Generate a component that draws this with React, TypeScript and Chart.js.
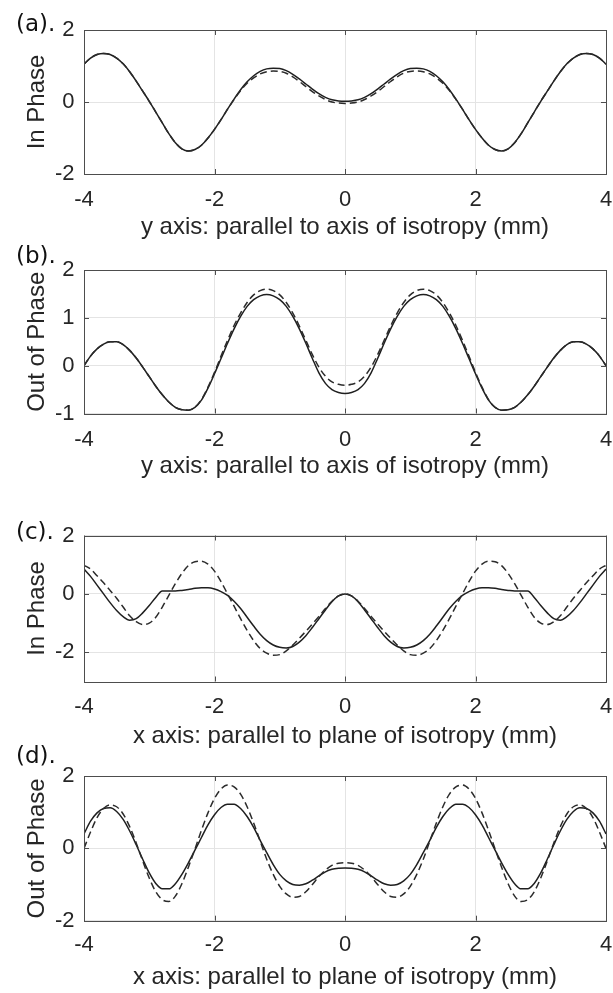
import React, { useEffect, useRef } from "react";
import { Chart, registerables } from "chart.js";
Chart.register(...registerables);

// x positions (mm)
const xs = [
  -4.0, -3.9, -3.8, -3.7, -3.6, -3.5, -3.4, -3.3, -3.2, -3.1,
  -3.0, -2.9, -2.8, -2.7, -2.6, -2.5, -2.4, -2.3, -2.2, -2.1,
  -2.0, -1.9, -1.8, -1.7, -1.6, -1.5, -1.4, -1.3, -1.2, -1.1,
  -1.0, -0.9, -0.8, -0.7, -0.6, -0.5, -0.4, -0.3, -0.2, -0.1,
  0.0,
  0.1, 0.2, 0.3, 0.4, 0.5, 0.6, 0.7, 0.8, 0.9, 1.0,
  1.1, 1.2, 1.3, 1.4, 1.5, 1.6, 1.7, 1.8, 1.9, 2.0,
  2.1, 2.2, 2.3, 2.4, 2.5, 2.6, 2.7, 2.8, 2.9, 3.0,
  3.1, 3.2, 3.3, 3.4, 3.5, 3.6, 3.7, 3.8, 3.9, 4.0,
];

// (a) In Phase, y axis
const aSolid = [
  1.05, 1.22, 1.32, 1.35, 1.32, 1.22, 1.06, 0.84, 0.58, 0.3,
  0.02, -0.28, -0.58, -0.88, -1.13, -1.3, -1.36, -1.32, -1.2, -1.0,
  -0.76, -0.49, -0.2, 0.08, 0.34, 0.56, 0.73, 0.85, 0.92, 0.94,
  0.93, 0.87, 0.77, 0.64, 0.5, 0.36, 0.23, 0.13, 0.06, 0.03,
  0.02,
  0.03, 0.06, 0.13, 0.23, 0.36, 0.5, 0.64, 0.77, 0.87, 0.93,
  0.94, 0.92, 0.85, 0.73, 0.56, 0.34, 0.08, -0.2, -0.49, -0.76,
  -1.0, -1.2, -1.32, -1.36, -1.3, -1.13, -0.88, -0.58, -0.28, 0.02,
  0.3, 0.58, 0.84, 1.06, 1.22, 1.32, 1.35, 1.32, 1.22, 1.05,
];
const aDashed = [
  1.05, 1.22, 1.32, 1.35, 1.32, 1.22, 1.06, 0.84, 0.58, 0.3,
  0.02, -0.28, -0.58, -0.88, -1.13, -1.3, -1.36, -1.32, -1.2, -1.0,
  -0.76, -0.49, -0.2, 0.07, 0.32, 0.52, 0.67, 0.78, 0.84, 0.86,
  0.85, 0.8, 0.7, 0.57, 0.43, 0.29, 0.17, 0.07, 0.0, -0.03,
  -0.04,
  -0.03, 0.0, 0.07, 0.17, 0.29, 0.43, 0.57, 0.7, 0.8, 0.85,
  0.86, 0.84, 0.78, 0.67, 0.52, 0.32, 0.07, -0.2, -0.49, -0.76,
  -1.0, -1.2, -1.32, -1.36, -1.3, -1.13, -0.88, -0.58, -0.28, 0.02,
  0.3, 0.58, 0.84, 1.06, 1.22, 1.32, 1.35, 1.32, 1.22, 1.05,
];

// (b) Out of Phase, y axis
const bSolid = [
  0.0, 0.2, 0.35, 0.45, 0.5, 0.5, 0.44, 0.32, 0.16, -0.03,
  -0.23, -0.43, -0.61, -0.76, -0.87, -0.92, -0.93, -0.87, -0.72, -0.47,
  -0.17, 0.15, 0.47, 0.77, 1.03, 1.24, 1.38, 1.46, 1.49, 1.46,
  1.38, 1.24, 1.03, 0.77, 0.47, 0.15, -0.15, -0.37, -0.5, -0.56,
  -0.58,
  -0.56, -0.5, -0.37, -0.15, 0.15, 0.47, 0.77, 1.03, 1.24, 1.38,
  1.46, 1.49, 1.46, 1.38, 1.24, 1.03, 0.77, 0.47, 0.15, -0.17,
  -0.47, -0.72, -0.87, -0.93, -0.92, -0.87, -0.76, -0.61, -0.43, -0.23,
  -0.03, 0.16, 0.32, 0.44, 0.5, 0.5, 0.45, 0.35, 0.2, 0.0,
];
const bDashed = [
  0.0, 0.2, 0.35, 0.45, 0.5, 0.5, 0.44, 0.32, 0.16, -0.03,
  -0.23, -0.43, -0.61, -0.76, -0.87, -0.92, -0.93, -0.87, -0.71, -0.45,
  -0.14, 0.2, 0.53, 0.84, 1.1, 1.32, 1.48, 1.57, 1.6, 1.57,
  1.48, 1.32, 1.1, 0.83, 0.53, 0.23, -0.03, -0.22, -0.34, -0.39,
  -0.41,
  -0.39, -0.34, -0.22, -0.03, 0.23, 0.53, 0.83, 1.1, 1.32, 1.48,
  1.57, 1.6, 1.57, 1.48, 1.32, 1.1, 0.84, 0.53, 0.2, -0.14,
  -0.45, -0.71, -0.87, -0.93, -0.92, -0.87, -0.76, -0.61, -0.43, -0.23,
  -0.03, 0.16, 0.32, 0.44, 0.5, 0.5, 0.45, 0.35, 0.2, 0.0,
];

// (c) In Phase, x axis
const cSolid = [
  0.85, 0.6, 0.3, 0.0, -0.3, -0.57, -0.78, -0.9, -0.85, -0.65,
  -0.4, -0.12, 0.1, 0.1, 0.1, 0.12, 0.15, 0.19, 0.21, 0.21,
  0.17, 0.08, -0.05, -0.25, -0.5, -0.8, -1.1, -1.38, -1.6, -1.75,
  -1.83, -1.85, -1.8, -1.65, -1.43, -1.15, -0.85, -0.55, -0.27, -0.07,
  0.0,
  -0.07, -0.27, -0.55, -0.85, -1.15, -1.43, -1.65, -1.8, -1.85, -1.83,
  -1.75, -1.6, -1.38, -1.1, -0.8, -0.5, -0.25, -0.05, 0.08, 0.17,
  0.21, 0.21, 0.19, 0.15, 0.12, 0.1, 0.1, 0.1, -0.12, -0.4,
  -0.65, -0.85, -0.9, -0.78, -0.57, -0.3, 0.0, 0.3, 0.6, 0.85,
];
const cDashed = [
  0.98, 0.85, 0.62, 0.38, 0.12, -0.15, -0.45, -0.75, -0.95, -1.05,
  -1.0, -0.8, -0.45, -0.05, 0.35, 0.7, 0.97, 1.1, 1.12, 1.02,
  0.78, 0.42, 0.0, -0.42, -0.85, -1.25, -1.6, -1.87, -2.03, -2.1,
  -2.08, -1.95, -1.75, -1.52, -1.28, -1.03, -0.77, -0.5, -0.25, -0.07,
  0.0,
  -0.07, -0.25, -0.5, -0.77, -1.03, -1.28, -1.52, -1.75, -1.95, -2.08,
  -2.1, -2.03, -1.87, -1.6, -1.25, -0.85, -0.42, 0.0, 0.42, 0.78,
  1.02, 1.12, 1.1, 0.97, 0.7, 0.35, -0.05, -0.45, -0.8, -1.0,
  -1.05, -0.95, -0.75, -0.45, -0.15, 0.12, 0.38, 0.62, 0.85, 0.98,
];

// (d) Out of Phase, x axis
const dSolid = [
  0.4, 0.75, 0.98, 1.1, 1.12, 1.02, 0.8, 0.48, 0.1, -0.3,
  -0.68, -0.97, -1.12, -1.12, -0.98, -0.72, -0.4, -0.05, 0.3, 0.65,
  0.93, 1.13, 1.22, 1.22, 1.1, 0.88, 0.58, 0.22, -0.12, -0.45,
  -0.72, -0.9, -1.0, -1.02, -0.98, -0.88, -0.76, -0.65, -0.58, -0.55,
  -0.54,
  -0.55, -0.58, -0.65, -0.76, -0.88, -0.98, -1.02, -1.0, -0.9, -0.72,
  -0.45, -0.12, 0.22, 0.58, 0.88, 1.1, 1.22, 1.22, 1.13, 0.93,
  0.65, 0.3, -0.05, -0.4, -0.72, -0.98, -1.12, -1.12, -0.97, -0.68,
  -0.3, 0.1, 0.48, 0.8, 1.02, 1.12, 1.1, 0.98, 0.75, 0.4,
];
const dDashed = [
  0.0, 0.45, 0.85, 1.1, 1.2, 1.15, 0.95, 0.6, 0.15, -0.35,
  -0.82, -1.2, -1.42, -1.47, -1.32, -0.98, -0.52, -0.02, 0.5, 0.98,
  1.38, 1.64, 1.75, 1.7, 1.5, 1.15, 0.7, 0.2, -0.3, -0.72,
  -1.05, -1.26, -1.35, -1.33, -1.2, -1.0, -0.78, -0.6, -0.47, -0.41,
  -0.4,
  -0.41, -0.47, -0.6, -0.78, -1.0, -1.2, -1.33, -1.35, -1.26, -1.05,
  -0.72, -0.3, 0.2, 0.7, 1.15, 1.5, 1.7, 1.75, 1.64, 1.38,
  0.98, 0.5, -0.02, -0.52, -0.98, -1.32, -1.47, -1.42, -1.2, -0.82,
  -0.35, 0.15, 0.6, 0.95, 1.15, 1.2, 1.1, 0.85, 0.45, 0.0,
];

const xTicks = [-4, -2, 0, 2, 4];
const aYTicks = [-2, 0, 2];
const bYTicks = [-1, 0, 1, 2];
const cYTicks = [-2, 0, 2];
const dYTicks = [-2, 0, 2];

const panelLabels = ["(a).", "(b).", "(c).", "(d)."];
const yTitles = ["In Phase", "Out of Phase", "In Phase", "Out of Phase"];
const xTitles = [
  "y axis: parallel to axis of isotropy (mm)",
  "y axis: parallel to axis of isotropy (mm)",
  "x axis: parallel to plane of isotropy (mm)",
  "x axis: parallel to plane of isotropy (mm)",
];

const W = 613;
const BOX_LEFT = 84;
const BOX_RIGHT = 606;
const TEXT = "#262626";
const FONT = "'Liberation Sans', Arial, Helvetica, sans-serif";

type PanelCfg = {
  top: number;
  h: number;
  padTop: number;
  xh: number;
  tickPad: number;
  titlePad: number;
  yMin: number;
  yMax: number;
  yTicks: number[];
  solid: number[];
  dashed: number[];
  label: string;
  labelY: number;
  yTitle: string;
  xTitle: string;
};

const panels: PanelCfg[] = [
  { top: 0, h: 250, padTop: 30, xh: 76, tickPad: 15, titlePad: 11, yMin: -2, yMax: 2, yTicks: aYTicks, solid: aSolid, dashed: aDashed, label: panelLabels[0], labelY: 23, yTitle: yTitles[0], xTitle: xTitles[0] },
  { top: 250, h: 240, padTop: 20, xh: 76.5, tickPad: 15.5, titlePad: 11.5, yMin: -1, yMax: 2, yTicks: bYTicks, solid: bSolid, dashed: bDashed, label: panelLabels[1], labelY: 255, yTitle: yTitles[1], xTitle: xTitles[1] },
  { top: 490, h: 262, padTop: 45.5, xh: 70.5, tickPad: 14.2, titlePad: 4, yMin: -3, yMax: 2, yTicks: cYTicks, solid: cSolid, dashed: cDashed, label: panelLabels[2], labelY: 531, yTitle: yTitles[2], xTitle: xTitles[2] },
  { top: 750, h: 243, padTop: 26, xh: 72.3, tickPad: 13.3, titlePad: 4, yMin: -2, yMax: 2, yTicks: dYTicks, solid: dSolid, dashed: dDashed, label: panelLabels[3], labelY: 755, yTitle: yTitles[3], xTitle: xTitles[3] },
];

const boxPlugin = {
  id: "matlabBox",
  afterDraw(chart: any) {
    const { ctx, chartArea } = chart;
    const { left, right, top, bottom } = chartArea;
    const sx = chart.scales.x;
    const sy = chart.scales.y;
    const tl = 5;
    ctx.save();
    ctx.strokeStyle = "#4d4d4d";
    ctx.lineWidth = 1;
    ctx.beginPath();
    sx.ticks.forEach((t: any) => {
      const px = Math.round(sx.getPixelForValue(t.value)) + 0.5;
      ctx.moveTo(px, bottom);
      ctx.lineTo(px, bottom - tl);
      ctx.moveTo(px, top);
      ctx.lineTo(px, top + tl);
    });
    sy.ticks.forEach((t: any) => {
      const py = Math.round(sy.getPixelForValue(t.value)) + 0.5;
      ctx.moveTo(left, py);
      ctx.lineTo(left + tl, py);
      ctx.moveTo(right, py);
      ctx.lineTo(right - tl, py);
    });
    ctx.stroke();
    ctx.strokeRect(Math.round(left) + 0.5, Math.round(top) + 0.5, Math.round(right - left), Math.round(bottom - top));
    ctx.restore();
  },
};

function Panel({ cfg }: { cfg: PanelCfg }) {
  const ref = useRef<HTMLCanvasElement>(null);
  useEffect(() => {
    const toPts = (arr: number[]) => xs.map((x, i) => ({ x, y: arr[i] }));
    const tickFont = { family: FONT, size: 22, lineHeight: 1 };
    const titleFont = { family: FONT, size: 24, lineHeight: 1 };
    const chart = new Chart(ref.current as HTMLCanvasElement, {
      type: "line",
      data: {
        datasets: [
          {
            data: toPts(cfg.dashed),
            borderColor: "#2b2b2b",
            borderWidth: 1.5,
            borderDash: [7, 4],
            pointRadius: 0,
            cubicInterpolationMode: "monotone",
            fill: false,
          },
          {
            data: toPts(cfg.solid),
            borderColor: "#1f1f1f",
            borderWidth: 1.5,
            pointRadius: 0,
            cubicInterpolationMode: "monotone",
            fill: false,
          },
        ],
      },
      options: {
        animation: false,
        responsive: false,
        events: [],
        layout: { padding: { top: cfg.padTop, right: W - BOX_RIGHT, left: 0, bottom: 0 } },
        plugins: { legend: { display: false }, tooltip: { enabled: false } },
        scales: {
          x: {
            type: "linear",
            min: -4,
            max: 4,
            afterBuildTicks: (s: any) => {
              s.ticks = xTicks.map((v) => ({ value: v }));
            },
            afterFit: (s: any) => {
              s.height = cfg.xh;
              s.paddingLeft = 0;
              s.paddingRight = 0;
            },
            grid: { color: "#e4e4e4", lineWidth: 1, drawTicks: false },
            border: { display: false },
            ticks: { font: tickFont, color: TEXT, padding: cfg.tickPad, maxRotation: 0 },
            title: { display: true, text: cfg.xTitle, font: titleFont, color: TEXT, padding: { top: 0, bottom: cfg.titlePad } },
          },
          y: {
            type: "linear",
            min: cfg.yMin,
            max: cfg.yMax,
            afterBuildTicks: (s: any) => {
              s.ticks = cfg.yTicks.map((v) => ({ value: v }));
            },
            afterFit: (s: any) => {
              s.width = BOX_LEFT;
              s.paddingTop = 0;
              s.paddingBottom = 0;
            },
            grid: { color: "#e4e4e4", lineWidth: 1, drawTicks: false },
            border: { display: false },
            ticks: { font: tickFont, color: TEXT, padding: 9.5 },
            title: { display: true, text: cfg.yTitle, font: titleFont, color: TEXT, padding: { top: 25, bottom: 0 } },
          },
        },
      },
      plugins: [boxPlugin],
    } as any);
    return () => chart.destroy();
  }, [cfg]);
  return (
    <canvas
      ref={ref}
      width={W}
      height={cfg.h}
      style={{ position: "absolute", left: 0, top: cfg.top }}
    />
  );
}

export default function App() {
  return (
    <div style={{ position: "absolute", left: 0, top: 0, width: W, height: 993, background: "#fff", overflow: "hidden" }}>
      {panels.map((p, i) => (
        <Panel key={i} cfg={p} />
      ))}
      {panels.map((p, i) => (
        <div
          key={"l" + i}
          style={{
            position: "absolute",
            left: 16,
            top: p.labelY - 14,
            height: 28,
            lineHeight: "28px",
            fontFamily: "'DejaVu Sans', sans-serif",
            fontSize: 23,
            color: "#111",
            whiteSpace: "nowrap",
          }}
        >
          {p.label}
        </div>
      ))}
    </div>
  );
}
